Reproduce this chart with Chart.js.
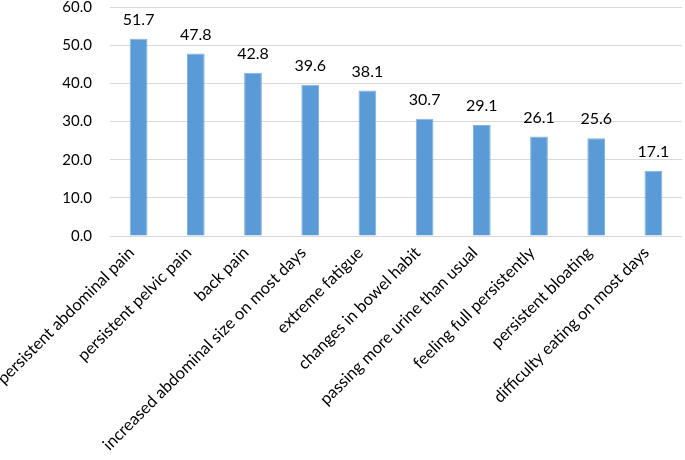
<!DOCTYPE html>
<html>
<head>
<meta charset="utf-8">
<script src="https://cdn.jsdelivr.net/npm/chart.js@4/dist/chart.umd.min.js"></script>
<style>
html,body{margin:0;padding:0;background:#fff;}
#wrap{width:685px;height:460px;position:relative;}
</style>
</head>
<body>
<div id="wrap"><canvas id="c" width="685" height="460"></canvas></div>
<script>
const categories = [
  "persistent abdominal pain",
  "persistent pelvic pain",
  "back pain",
  "increased abdominal size on most days",
  "extreme fatigue",
  "changes in bowel habit",
  "passing more urine than usual",
  "feeling full persistently",
  "persistent bloating",
  "difficulty eating on most days"
];
const values = [51.7, 47.8, 42.8, 39.6, 38.1, 30.7, 29.1, 26.1, 25.6, 17.1];
const yTicks = [0, 10, 20, 30, 40, 50, 60];

const FONT = "Lato, 'Open Sans', sans-serif";

const labelPlugin = {
  id: 'valueLabels',
  afterDatasetsDraw(chart) {
    const ctx = chart.ctx;
    const meta = chart.getDatasetMeta(0);
    ctx.save();
    ctx.font = "16px " + FONT;
    ctx.fillStyle = "#000";
    ctx.textAlign = "center";
    ctx.textBaseline = "bottom";
    meta.data.forEach((bar, i) => {
      ctx.fillText(values[i].toFixed(1), bar.x, bar.y - 11);
    });
    ctx.restore();
  }
};

new Chart(document.getElementById('c'), {
  type: 'bar',
  data: {
    labels: categories,
    datasets: [{
      data: values,
      backgroundColor: '#5B9BD5',
      borderColor: '#7FB2E0',
      borderWidth: 1,
      categoryPercentage: 1,
      barPercentage: 0.31
    }]
  },
  options: {
    responsive: false,
    animation: false,
    layout: { padding: { top: 7, right: 3, left: 0, bottom: 0 } },
    plugins: { legend: { display: false }, tooltip: { enabled: false } },
    scales: {
      x: {
        grid: { display: false },
        border: { display: false },
        ticks: {
          minRotation: 45, maxRotation: 45, autoSkip: false,
          color: '#000', font: { size: 16.5, family: FONT }, padding: -1,
          labelOffset: -7
        },
        afterFit(scale) { scale.height = 224; scale.paddingTop = 0; scale.paddingBottom = 0; }
      },
      y: {
        min: 0, max: 60,
        afterBuildTicks(scale) { scale.ticks = yTicks.map(v => ({ value: v })); },
        grid: { color: '#d9d9d9', lineWidth: 1, drawTicks: false },
        border: { display: false },
        ticks: {
          color: '#000', font: { size: 15, family: FONT }, padding: 18,
          callback: v => Number(v).toFixed(1)
        },
        afterFit(scale) { scale.width = 110; scale.paddingTop = 0; scale.paddingBottom = 0; }
      }
    }
  },
  plugins: [labelPlugin]
});
</script>
</body>
</html>
